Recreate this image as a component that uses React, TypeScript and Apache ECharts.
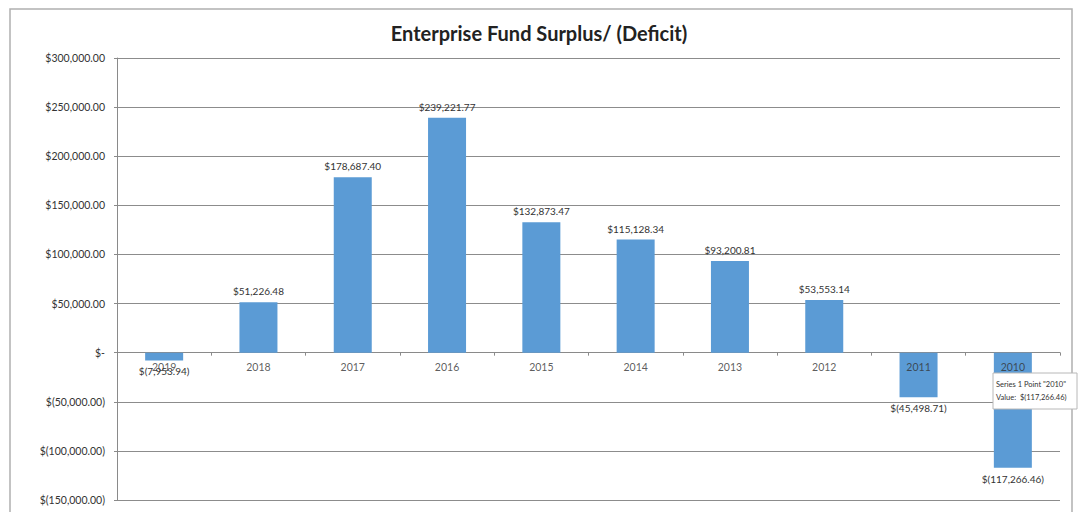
import React, { useEffect, useRef } from "react";
import * as echarts from "echarts";

const years = ["2019", "2018", "2017", "2016", "2015", "2014", "2013", "2012", "2011", "2010"];
const surplus = [-7953.94, 51226.48, 178687.4, 239221.77, 132873.47, 115128.34, 93200.81, 53553.14, -45498.71, -117266.46];
const chartTitle = "Enterprise Fund Surplus/ (Deficit)";
const tooltipLines = ["Series 1 Point \"2010\"", "Value:  $(117,266.46)"];

function fmtMoney(v: number): string {
  if (v === 0) return "$-";
  const s = Math.abs(v).toLocaleString("en-US", { minimumFractionDigits: 2, maximumFractionDigits: 2 });
  return v < 0 ? `$(${s})` : `$${s}`;
}

export default function App() {
  const ref = useRef<HTMLDivElement>(null);
  useEffect(() => {
    if (!ref.current) return;
    const chart = echarts.init(ref.current, null, { renderer: "svg" });
    const font = "Lato, 'Open Sans', sans-serif";
    chart.setOption({
      animation: false,
      backgroundColor: "#ffffff",
      textStyle: { fontFamily: font },
      title: {
        text: chartTitle,
        left: "center",
        top: 18,
        textStyle: { fontSize: 20, fontWeight: "bold", color: "#222", fontFamily: font },
      },
      grid: { left: 117, right: 18, top: 58, bottom: 12, containLabel: false },
      xAxis: {
        type: "category",
        data: years,
        axisLine: { onZero: true, lineStyle: { color: "#8a8a8a", width: 1 } },
        axisTick: { show: true, length: 3, lineStyle: { color: "#8a8a8a" } },
        axisLabel: { show: false },
      },
      yAxis: {
        type: "value",
        min: -150000,
        max: 300000,
        interval: 50000,
        axisLine: { show: true, lineStyle: { color: "#8a8a8a" } },
        axisTick: { show: true, length: 3, lineStyle: { color: "#8a8a8a" } },
        splitLine: { lineStyle: { color: "#8c8c8c", width: 1.2 } },
        axisLabel: { fontSize: 10.5, color: "#333", margin: 12, formatter: (v: number) => fmtMoney(v) },
      },
      series: [
        {
          type: "bar",
          data: surplus.map((v) => ({
            value: v,
            label: { position: v < 0 ? "bottom" : "top" },
          })),
          barWidth: 38,
          itemStyle: { color: "#5b9bd5" },
          label: {
            show: true,
            fontSize: 10,
            color: "#333",
            distance: 6,
            formatter: (p: any) => fmtMoney(p.value),
          },
        },
        {
          type: "scatter",
          data: years.map(() => 0),
          symbolSize: 0,
          silent: true,
          label: {
            show: true,
            position: "bottom",
            distance: 9,
            fontSize: 10.5,
            color: "#333",
            formatter: (p: any) => years[p.dataIndex],
          },
        },
      ],
      graphic: [
        {
          type: "rect",
          x: 10,
          y: 9,
          shape: { width: 1062, height: 520 },
          style: { fill: "none", stroke: "#b0b0b0", lineWidth: 1.5 },
          silent: true,
        },
        {
          type: "rect",
          x: 993,
          y: 373,
          shape: { width: 84, height: 36 },
          style: { fill: "#ffffff", stroke: "#b8b8b8", lineWidth: 1 },
          z: 100,
        },
        {
          type: "text",
          x: 996,
          y: 378,
          z: 101,
          style: { text: tooltipLines.join("\n"), fontSize: 7.5, lineHeight: 13, fill: "#333", fontFamily: font },
        },
      ],
    });
    return () => chart.dispose();
  }, []);
  return (
    <div
      ref={ref}
      style={{ position: "fixed", left: 0, top: 0, width: 1078, height: 512 }}
    />
  );
}
